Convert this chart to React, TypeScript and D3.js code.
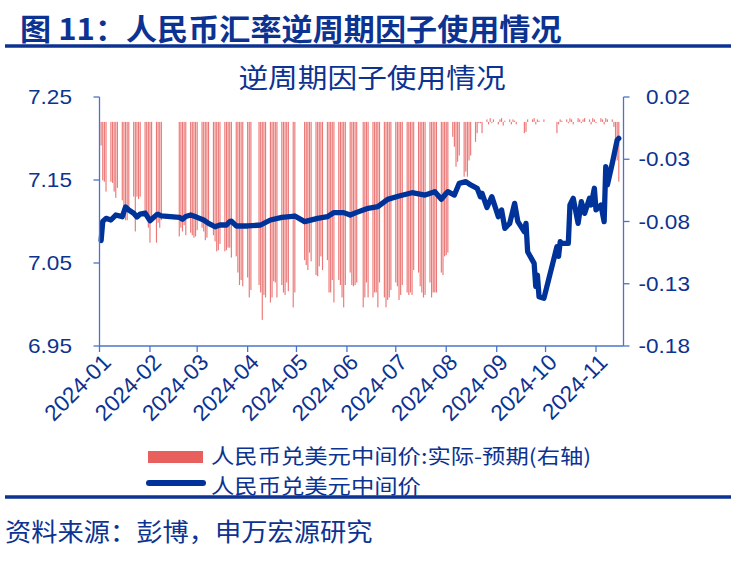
import React from "react";
import * as d3 from "d3";

// ---------- DATA ----------
const leftTicks = [6.95, 7.05, 7.15, 7.25];
const rightTicks = [0.02, -0.03, -0.08, -0.13, -0.18];
const monthTicks = [
  "2024-01-01", "2024-02-01", "2024-03-01", "2024-04-01", "2024-05-01", "2024-06-01",
  "2024-07-01", "2024-08-01", "2024-09-01", "2024-10-01", "2024-11-01",
];

// USD/CNY central parity (left axis)
const lineData: [string, number][] = [
  ["2024-01-02", 7.077], ["2024-01-03", 7.1002], ["2024-01-05", 7.1038], ["2024-01-08", 7.1018],
  ["2024-01-11", 7.1078], ["2024-01-15", 7.1058], ["2024-01-17", 7.1175], ["2024-01-19", 7.1139],
  ["2024-01-22", 7.11], ["2024-01-24", 7.1054], ["2024-01-26", 7.109], ["2024-01-29", 7.1102],
  ["2024-02-01", 7.101], ["2024-02-05", 7.108], ["2024-02-06", 7.1087], ["2024-02-08", 7.1068],
  ["2024-02-19", 7.105], ["2024-02-21", 7.1026], ["2024-02-23", 7.106], ["2024-02-26", 7.1078],
  ["2024-03-01", 7.105], ["2024-03-05", 7.1018], ["2024-03-08", 7.0978], ["2024-03-12", 7.0937],
  ["2024-03-15", 7.0958], ["2024-03-19", 7.0958], ["2024-03-21", 7.1], ["2024-03-22", 7.1004],
  ["2024-03-25", 7.0946], ["2024-04-01", 7.0946], ["2024-04-09", 7.0958], ["2024-04-15", 7.1018],
  ["2024-04-22", 7.105], ["2024-04-30", 7.1066], ["2024-05-06", 7.0998], ["2024-05-14", 7.1038],
  ["2024-05-20", 7.1058], ["2024-05-24", 7.1107], ["2024-05-30", 7.1107], ["2024-06-03", 7.1078],
  ["2024-06-07", 7.111], ["2024-06-11", 7.1139], ["2024-06-14", 7.1159], ["2024-06-20", 7.1179],
  ["2024-06-26", 7.1267], ["2024-07-03", 7.1307], ["2024-07-11", 7.1347], ["2024-07-19", 7.1319],
  ["2024-07-25", 7.1359], ["2024-07-29", 7.1267], ["2024-08-01", 7.134], ["2024-08-02", 7.1359],
  ["2024-08-06", 7.1319], ["2024-08-09", 7.146], ["2024-08-13", 7.148], ["2024-08-16", 7.144],
  ["2024-08-20", 7.14], ["2024-08-22", 7.1299], ["2024-08-23", 7.134], ["2024-08-26", 7.1169],
  ["2024-08-29", 7.1299], ["2024-09-02", 7.1058], ["2024-09-04", 7.1139], ["2024-09-06", 7.0918],
  ["2024-09-09", 7.0978], ["2024-09-12", 7.1219], ["2024-09-14", 7.0998], ["2024-09-18", 7.0877],
  ["2024-09-19", 7.0978], ["2024-09-20", 7.0636], ["2024-09-24", 7.0496], ["2024-09-25", 7.0215],
  ["2024-09-26", 7.0355], ["2024-09-27", 7.0094], ["2024-09-30", 7.0075], ["2024-10-08", 7.0696],
  ["2024-10-09", 7.058], ["2024-10-10", 7.0757], ["2024-10-11", 7.0737], ["2024-10-15", 7.0737],
  ["2024-10-16", 7.1199], ["2024-10-18", 7.1279], ["2024-10-21", 7.0978], ["2024-10-23", 7.1239],
  ["2024-10-25", 7.1098], ["2024-10-28", 7.1279], ["2024-10-29", 7.1199], ["2024-10-31", 7.14],
  ["2024-11-01", 7.1139], ["2024-11-04", 7.1199], ["2024-11-06", 7.0998], ["2024-11-07", 7.166],
  ["2024-11-08", 7.144], ["2024-11-11", 7.1701], ["2024-11-14", 7.1982], ["2024-11-15", 7.2002],
];

// Actual minus expected (right axis): first trading day of a run, then consecutive daily values
const barWeeks: [string, number[]][] = [
  ["2024-01-02", [-0.019, -0.047, -0.048, -0.056]],
  ["2024-01-08", [-0.048, -0.049, -0.056, -0.061, -0.053]],
  ["2024-01-15", [-0.063, -0.068, -0.079, -0.079, -0.07]],
  ["2024-01-22", [-0.06, -0.088, -0.06, -0.062, -0.06]],
  ["2024-01-29", [-0.071, -0.077, -0.085, -0.097, -0.08]],
  ["2024-02-05", [-0.097, -0.081, -0.085, -0.079]],
  ["2024-02-19", [-0.092, -0.085, -0.088, -0.083, -0.091]],
  ["2024-02-26", [-0.089, -0.091, -0.093, -0.092, -0.087]],
  ["2024-03-04", [-0.085, -0.088, -0.095, -0.093, -0.083]],
  ["2024-03-11", [-0.091, -0.096, -0.104, -0.103, -0.098]],
  ["2024-03-18", [-0.104, -0.103, -0.101, -0.101, -0.109]],
  ["2024-03-25", [-0.108, -0.121, -0.131, -0.127, -0.132]],
  ["2024-04-01", [-0.125, -0.141, -0.135]],
  ["2024-04-08", [-0.131, -0.137, -0.159, -0.139, -0.141]],
  ["2024-04-15", [-0.145, -0.141, -0.128, -0.129, -0.141]],
  ["2024-04-22", [-0.131, -0.137, -0.139, -0.129, -0.136]],
  ["2024-04-29", [-0.149, -0.137]],
  ["2024-05-06", [-0.111, -0.115, -0.119, -0.105, -0.112]],
  ["2024-05-13", [-0.123, -0.124, -0.116, -0.108, -0.119]],
  ["2024-05-20", [-0.111, -0.137, -0.137, -0.127, -0.145]],
  ["2024-05-27", [-0.127, -0.131, -0.141, -0.149, -0.131]],
  ["2024-06-03", [-0.121, -0.131, -0.132, -0.131, -0.129]],
  ["2024-06-11", [-0.149, -0.141, -0.129, -0.141]],
  ["2024-06-17", [-0.141, -0.137, -0.137, -0.149, -0.129]],
  ["2024-06-24", [-0.141, -0.149, -0.143, -0.141, -0.135]],
  ["2024-07-01", [-0.129, -0.132, -0.143, -0.139, -0.131]],
  ["2024-07-08", [-0.137, -0.139, -0.137, -0.139, -0.119]],
  ["2024-07-15", [-0.121, -0.132, -0.137, -0.141, -0.139]],
  ["2024-07-22", [-0.129, -0.141, -0.137, -0.137, -0.137]],
  ["2024-07-29", [-0.121, -0.123, -0.108, -0.107, -0.105]],
  ["2024-08-05", [-0.012, -0.02, -0.036, -0.032, -0.027]],
  ["2024-08-12", [-0.044, -0.04, -0.044, -0.031, -0.027]],
  ["2024-08-19", [-0.016, -0.009, -0.001, -0.001, -0.009]],
  ["2024-08-26", [0.002, -0.002, 0.003, -0.001, 0.002]],
  ["2024-09-02", [-0.002, 0.002, 0.003, -0.003, 0.001]],
  ["2024-09-09", [0.002, -0.002, 0.002, 0.001, -0.002]],
  ["2024-09-18", [-0.009, -0.008, 0.002]],
  ["2024-09-23", [0.002, 0.003, -0.002, 0.002, 0.001]],
  ["2024-09-30", [0.002]],
  ["2024-10-08", [-0.009, -0.002, 0.002, 0.001]],
  ["2024-10-14", [0.002, -0.001, 0.003, 0.002, -0.002]],
  ["2024-10-21", [0.003, 0.002, -0.001, 0.002, 0.003]],
  ["2024-10-28", [0.002, -0.002, 0.003, 0.002, -0.001]],
  ["2024-11-04", [0.003, 0.002, -0.002, 0.003, 0.002]],
  ["2024-11-11", [0.002, -0.004, -0.02, -0.031, -0.048]],
];

const titleText = "图 11：人民币汇率逆周期因子使用情况";
const chartTitle = "逆周期因子使用情况";
const barLabel = "人民币兑美元中间价:实际-预期(右轴)";
const lineLabel = "人民币兑美元中间价";
const sourceText = "资料来源：彭博，申万宏源研究";

// ---------- LAYOUT ----------
const W = 746, H = 562;
const plotLeft = 99.5, plotRight = 623.5, plotTop = 97, plotBottom = 346;
const NAVY = "#0C3391";
const AXIS = "#4A74C9";
const LINE = "#003399";
const BAR = "#E8605E";
const FONT = "'Liberation Sans', Arial, 'Noto Sans CJK SC', sans-serif";
const CJK = "'Noto Sans CJK SC', 'Liberation Sans', sans-serif";

const parse = d3.timeParse("%Y-%m-%d");
const fmtMonth = d3.timeFormat("%Y-%m");

function SText(props: {
  x: number; y: number; sx: number; size: number; anchor?: string; family: string;
  weight?: string; dy?: string; children: React.ReactNode;
}) {
  const { x, y, sx, size, anchor, family, weight, dy, children } = props;
  return (
    <text transform={`translate(${x},${y}) scale(${sx},1)`} textAnchor={anchor || "start"}
      fontFamily={family} fontSize={size} fontWeight={weight || "normal"} fill={NAVY} dy={dy}>
      {children}
    </text>
  );
}

export default function App() {
  const x = d3.scaleTime()
    .domain([parse("2024-01-01")!, parse("2024-11-01")!])
    .range([plotLeft, 596]);
  const yL = d3.scaleLinear().domain([6.95, 7.25]).range([plotBottom, plotTop]);
  const yR = d3.scaleLinear().domain([-0.18, 0.02]).range([plotBottom, plotTop]);

  const bars: { d: Date; v: number }[] = [];
  barWeeks.forEach(([start, vals]) => {
    const s = parse(start)!;
    vals.forEach((v, i) => bars.push({ d: d3.timeDay.offset(s, i), v }));
  });

  const line = d3.line<[string, number]>()
    .x((p) => x(parse(p[0])!))
    .y((p) => yL(p[1]))
    .curve(d3.curveLinear);

  const barW = 1.15;

  return (
    <svg width={W} height={H} style={{ position: "absolute", left: 0, top: 0, background: "#fff" }}>
      {/* header */}
      <SText x={20} y={40} sx={1.055} size={29.5} family={CJK} weight="bold">{titleText}</SText>
      <line x1={5} x2={731} y1={46} y2={46} stroke={NAVY} strokeWidth={3.5} />

      <SText x={372} y={88} sx={1.1} size={27} family={CJK} anchor="middle">{chartTitle}</SText>

      {/* bars */}
      <g>
        {bars.map((b, i) => {
          const y0 = yR(0), y1 = yR(b.v);
          return (
            <rect key={i} x={x(b.d) - barW / 2} y={Math.min(y0, y1)} width={barW}
              height={Math.max(0.6, Math.abs(y1 - y0))} fill={BAR} opacity={0.85} />
          );
        })}
      </g>

      {/* line */}
      <path d={line(lineData) || ""} fill="none" stroke={LINE} strokeWidth={5.3}
        strokeLinejoin="round" strokeLinecap="round" />

      {/* axes */}
      <g stroke={AXIS} strokeWidth={1.3} fill="none">
        <line x1={plotLeft} x2={plotLeft} y1={plotTop} y2={plotBottom} />
        <line x1={plotRight} x2={plotRight} y1={plotTop} y2={plotBottom} />
        <line x1={plotLeft} x2={plotRight} y1={plotBottom} y2={plotBottom} />
        {leftTicks.map((t) => (
          <line key={"lt" + t} x1={plotLeft - 6} x2={plotLeft} y1={yL(t)} y2={yL(t)} />
        ))}
        {rightTicks.map((t) => (
          <line key={"rt" + t} x1={plotRight} x2={plotRight + 6} y1={yR(t)} y2={yR(t)} />
        ))}
        {monthTicks.map((m) => (
          <line key={"mt" + m} x1={x(parse(m)!)} x2={x(parse(m)!)} y1={plotBottom} y2={plotBottom + 6} />
        ))}
      </g>

      <g>
        {leftTicks.map((t) => (
          <SText key={"ll" + t} x={72} y={yL(t)} sx={1.13} size={20} family={FONT} anchor="end" dy="0.36em">
            {t.toFixed(2)}
          </SText>
        ))}
        {rightTicks.map((t) => (
          <SText key={"rl" + t} x={690} y={yR(t)} sx={1.13} size={20} family={FONT} anchor="end" dy="0.36em">
            {t.toFixed(2)}
          </SText>
        ))}
        {monthTicks.map((m) => {
          const px = x(parse(m)!);
          return (
            <text key={"ml" + m} transform={`translate(${px + 7},${plotBottom + 12}) rotate(-45)`}
              textAnchor="end" dy="0.36em" fontFamily={FONT} fontSize={22.5} fill={NAVY}>
              {fmtMonth(parse(m)!)}
            </text>
          );
        })}
      </g>

      {/* legend */}
      <rect x={148} y={451} width={55} height={12} fill={BAR} />
      <SText x={211} y={464} sx={1.138} size={20.5} family={CJK}>{barLabel}</SText>
      <line x1={149} x2={203} y1={483} y2={483} stroke={LINE} strokeWidth={6} strokeLinecap="round" />
      <SText x={211} y={494} sx={1.138} size={20.5} family={CJK}>{lineLabel}</SText>

      {/* footer */}
      <line x1={5} x2={731} y1={497} y2={497} stroke={NAVY} strokeWidth={3.5} />
      <SText x={5} y={541} sx={1.05} size={25} family={CJK}>{sourceText}</SText>
    </svg>
  );
}
